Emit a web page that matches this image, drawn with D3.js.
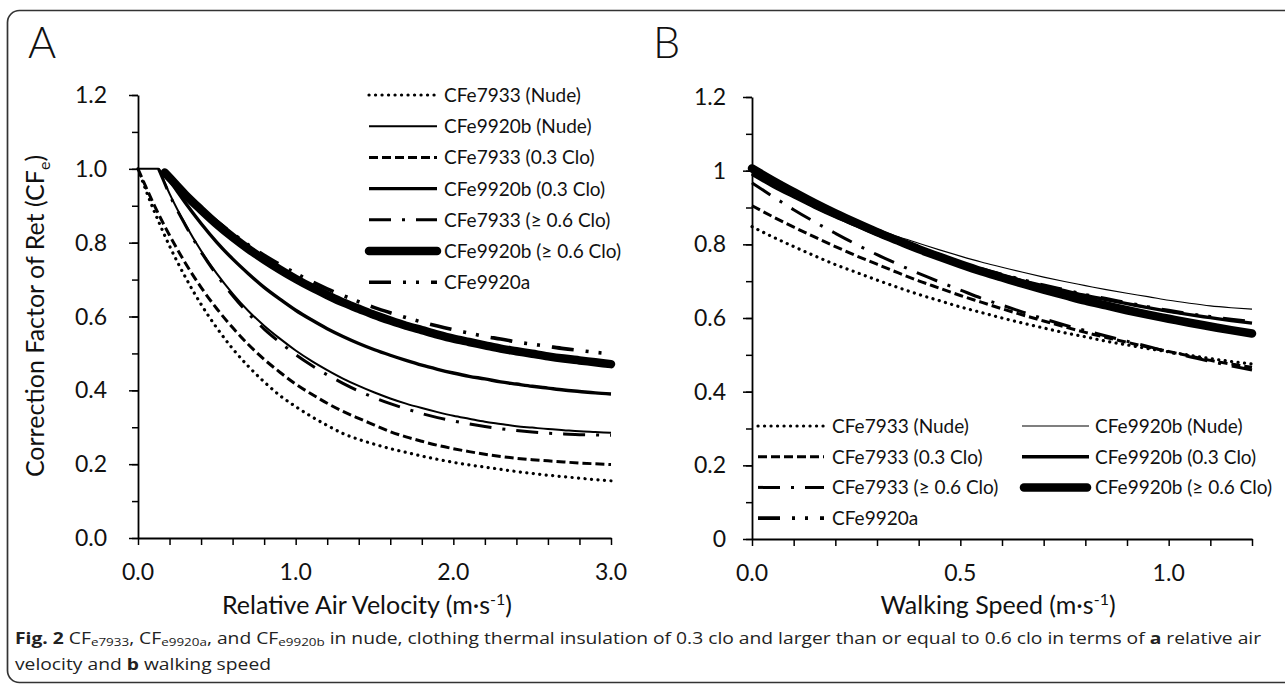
<!DOCTYPE html>
<html><head><meta charset="utf-8">
<script src="https://cdn.jsdelivr.net/npm/d3@7"></script>
<style>
html,body{margin:0;padding:0;background:#fff;}
svg{display:block;font-family:Lato,"Open Sans",sans-serif;}
</style></head><body>
<svg id="c" width="1285" height="685"></svg>
<script>
// ---------- DATA ----------
// Panel A: relative air velocity (m/s)
const velocityA = [0,0.05,0.1,0.13,0.17,0.2,0.3,0.4,0.5,0.6,0.7,0.8,0.9,1.0,1.1,1.2,1.3,1.4,1.5,1.6,1.7,1.8,1.9,2.0,2.1,2.2,2.3,2.4,2.5,2.6,2.7,2.8,2.9,3.0];
const A_7933_nude  = [1.000,0.942,0.888,0.858,0.819,0.791,0.707,0.633,0.569,0.513,0.465,0.423,0.386,0.356,0.329,0.305,0.283,0.267,0.254,0.242,0.232,0.222,0.213,0.205,0.198,0.192,0.186,0.180,0.175,0.170,0.166,0.162,0.158,0.155];
const A_9920b_nude = [1.000,1.000,1.000,1.000,0.961,0.933,0.850,0.778,0.716,0.662,0.615,0.575,0.540,0.508,0.480,0.455,0.432,0.412,0.394,0.378,0.364,0.352,0.341,0.331,0.323,0.315,0.309,0.303,0.299,0.295,0.292,0.289,0.287,0.285];
const A_7933_03    = [1.000,0.951,0.904,0.878,0.844,0.820,0.745,0.679,0.621,0.570,0.524,0.484,0.449,0.417,0.390,0.365,0.343,0.324,0.306,0.288,0.274,0.262,0.251,0.242,0.234,0.227,0.221,0.216,0.212,0.209,0.206,0.203,0.201,0.199];
const A_9920b_03   = [null,null,null,null,0.990,0.970,0.908,0.852,0.801,0.756,0.716,0.679,0.647,0.617,0.591,0.567,0.546,0.527,0.510,0.495,0.481,0.468,0.457,0.447,0.438,0.431,0.423,0.417,0.411,0.406,0.401,0.397,0.393,0.390];
const A_7933_06    = [null,null,null,1.000,0.960,0.930,0.848,0.775,0.712,0.657,0.608,0.566,0.530,0.497,0.468,0.442,0.419,0.398,0.380,0.364,0.350,0.337,0.326,0.317,0.309,0.302,0.296,0.291,0.287,0.284,0.282,0.280,0.279,0.278];
const A_9920b_06   = [null,null,null,null,0.990,0.976,0.930,0.889,0.850,0.815,0.783,0.754,0.727,0.702,0.679,0.658,0.638,0.621,0.604,0.589,0.575,0.563,0.551,0.540,0.531,0.522,0.513,0.506,0.499,0.492,0.486,0.481,0.476,0.471];
const A_9920a      = [null,null,null,null,0.990,0.977,0.933,0.894,0.858,0.825,0.794,0.766,0.741,0.717,0.695,0.675,0.657,0.640,0.624,0.610,0.597,0.585,0.574,0.564,0.555,0.546,0.539,0.531,0.525,0.519,0.513,0.508,0.503,0.499];

// Panel B: walking speed (m/s)
const speedB = [0,0.05,0.1,0.15,0.2,0.25,0.3,0.35,0.4,0.45,0.5,0.55,0.6,0.65,0.7,0.75,0.8,0.85,0.9,0.95,1.0,1.05,1.1,1.15,1.2];
const B_7933_nude  = [0.848,0.820,0.794,0.769,0.745,0.724,0.703,0.683,0.664,0.647,0.630,0.615,0.600,0.586,0.573,0.560,0.549,0.537,0.527,0.517,0.508,0.499,0.490,0.482,0.475];
const B_9920b_nude = [0.995,0.965,0.937,0.911,0.886,0.863,0.842,0.821,0.803,0.785,0.768,0.752,0.738,0.724,0.711,0.699,0.688,0.677,0.667,0.658,0.648,0.640,0.633,0.628,0.624];
const B_7933_03    = [0.905,0.875,0.847,0.820,0.794,0.769,0.746,0.723,0.701,0.681,0.661,0.643,0.625,0.608,0.592,0.576,0.561,0.547,0.534,0.521,0.509,0.497,0.485,0.475,0.466];
const B_9920b_03   = [0.990,0.958,0.929,0.901,0.875,0.851,0.827,0.806,0.786,0.766,0.748,0.732,0.716,0.701,0.687,0.674,0.661,0.650,0.639,0.628,0.618,0.609,0.601,0.593,0.586];
const B_7933_06    = [0.967,0.930,0.894,0.861,0.830,0.800,0.772,0.746,0.721,0.698,0.676,0.654,0.635,0.616,0.598,0.581,0.566,0.551,0.537,0.523,0.508,0.495,0.482,0.470,0.459];
const B_9920b_06   = [1.006,0.973,0.942,0.912,0.884,0.858,0.833,0.810,0.787,0.766,0.746,0.727,0.710,0.693,0.677,0.662,0.647,0.634,0.621,0.609,0.598,0.587,0.577,0.567,0.558];
const B_9920a      = [0.993,0.961,0.931,0.903,0.877,0.853,0.830,0.808,0.788,0.768,0.750,0.734,0.718,0.703,0.689,0.676,0.663,0.652,0.641,0.630,0.620,0.611,0.603,0.596,0.590];

// Tick labels
const yTickValues = [0,0.2,0.4,0.6,0.8,1.0,1.2];
const yTickLabelsA = ["0.0","0.2","0.4","0.6","0.8","1.0","1.2"];
const yTickLabelsB = ["0","0.2","0.4","0.6","0.8","1","1.2"];
const xTickValuesA = [0,1,2,3];
const xTickLabelsA = ["0.0","1.0","2.0","3.0"];
const xTickValuesB = [0,0.5,1.0];
const xTickLabelsB = ["0.0","0.5","1.0"];

const legendLabels = {
  n7933:"CFe7933 (Nude)", n9920b:"CFe9920b (Nude)", c7933:"CFe7933 (0.3 Clo)", c9920b:"CFe9920b (0.3 Clo)",
  h7933:"CFe7933 (\u2265 0.6 Clo)", h9920b:"CFe9920b (\u2265 0.6 Clo)", a9920:"CFe9920a"
};

// ---------- STYLES ----------
const st = {
  dot:    {w:3.2, dash:"0.1,6.4", cap:"round"},
  thinA:  {w:2.0, dash:null, cap:"butt"},
  thinB:  {w:1.1, dash:null, cap:"butt"},
  dash:   {w:3.0, dash:"9,4", cap:"butt"},
  med:    {w:3.4, dash:null, cap:"butt"},
  dashdot:{w:3.0, dash:"22,11,3,11", cap:"butt"},
  thick:  {w:8.5, dash:null, cap:"round"},
  dd:     {w:3.6, dash:"22,12,3,10,3,12", cap:"butt"}
};

const svg = d3.select("#c");

// frame
svg.append("rect").attr("x",7.5).attr("y",10.5).attr("width",1300).attr("height",672)
  .attr("rx",12).attr("fill","none").attr("stroke","#333").attr("stroke-width",1.7);

function styleLine(sel, s){
  sel.attr("fill","none").attr("stroke","#000").attr("stroke-width",s.w)
     .attr("stroke-linecap",s.cap).attr("stroke-linejoin","round");
  if(s.dash) sel.attr("stroke-dasharray",s.dash);
  return sel;
}

function panel(o){
  const g = svg.append("g");
  const x = d3.scaleLinear(o.xDomain,o.xRange);
  const y = d3.scaleLinear([0,1.2],o.yRange);
  const yMinor = d3.range(0,1.2001,0.1);
  g.append("g").attr("transform",`translate(${o.xRange[0]},0)`)
    .call(d3.axisLeft(y).tickValues(yMinor).tickSize(6).tickFormat("").tickSizeOuter(0))
    .call(a=>a.select(".domain").remove())
    .selectAll("line").attr("stroke","#000").attr("stroke-width",1.5);
  g.append("g").attr("transform",`translate(${o.xRange[0]},0)`)
    .call(d3.axisLeft(y).tickValues(yTickValues).tickSize(9).tickFormat("").tickSizeOuter(0))
    .call(a=>a.select(".domain").attr("stroke","#000").attr("stroke-width",1.8))
    .selectAll("line").attr("stroke","#000").attr("stroke-width",1.5);
  g.append("g").attr("transform",`translate(0,${o.yRange[0]})`)
    .call(d3.axisBottom(x).tickValues(o.xMinor).tickSize(7).tickFormat("").tickSizeOuter(0))
    .call(a=>a.select(".domain").attr("stroke","#000").attr("stroke-width",1.8))
    .selectAll("line").attr("stroke","#000").attr("stroke-width",1.5);
  g.selectAll(".yl").data(yTickValues).join("text")
    .attr("x",o.xRange[0]-o.yLabGap).attr("y",d=>y(d)+8)
    .attr("text-anchor","end").attr("font-size",23).attr("fill","#111")
    .text((d,i)=>o.yLabels[i]);
  g.selectAll(".xl").data(o.xTicks).join("text")
    .attr("x",d=>x(d)).attr("y",o.yRange[0]+42)
    .attr("text-anchor","middle").attr("font-size",23).attr("fill","#111")
    .text((d,i)=>o.xLabels[i]);
  const line = d3.line().defined(d=>d[1]!=null).x(d=>x(d[0])).y(d=>y(d[1])).curve(d3.curveMonotoneX);
  o.series.forEach(s=>{
    const pts = o.xs.map((v,i)=>[v,s.values[i]]);
    styleLine(g.append("path").attr("d",line(pts)), s.style);
  });
  o.legend.forEach(l=>{
    styleLine(g.append("line").attr("x1",l.x1).attr("x2",l.x2).attr("y1",l.y).attr("y2",l.y), l.style);
    g.append("text").attr("x",l.tx).attr("y",l.y+7).attr("font-size",19).attr("fill","#111").text(l.label);
  });
  const t = g.append("text").attr("x",o.titleX).attr("y",614).attr("text-anchor","middle")
    .attr("font-size",25).attr("fill","#111");
  t.append("tspan").text(o.title+" (m\u00b7s");
  t.append("tspan").attr("dy",-9).attr("font-size",16).text("-1");
  t.append("tspan").attr("dy",9).text(")");
  g.append("text").attr("x",o.letterX).attr("y",58).attr("font-size",43).attr("font-weight",300)
    .attr("fill","#111").text(o.letter);
  return {x,y};
}

// Panel A
const rowsA = d3.range(7).map(i=>95+i*31.2);
panel({
  xDomain:[0,3], xRange:[138,611], yRange:[538,95],
  xMinor:d3.range(0,3.0001,0.2), xTicks:xTickValuesA, xLabels:xTickLabelsA,
  yLabels:yTickLabelsA, yLabGap:31, xs:velocityA,
  series:[
    {values:A_7933_nude, style:st.dot},
    {values:A_7933_03, style:st.dash},
    {values:A_9920b_nude, style:st.thinA},
    {values:A_7933_06, style:st.dashdot},
    {values:A_9920b_03, style:st.med},
    {values:A_9920b_06, style:st.thick},
    {values:A_9920a, style:st.dd}
  ],
  legend:[
    {label:legendLabels.n7933, style:st.dot, y:rowsA[0]},
    {label:legendLabels.n9920b, style:st.thinA, y:rowsA[1]},
    {label:legendLabels.c7933, style:st.dash, y:rowsA[2]},
    {label:legendLabels.c9920b, style:st.med, y:rowsA[3]},
    {label:legendLabels.h7933, style:st.dashdot, y:rowsA[4]},
    {label:legendLabels.h9920b, style:st.thick, y:rowsA[5]},
    {label:legendLabels.a9920, style:st.dd, y:rowsA[6]}
  ].map(l=>Object.assign(l,{x1:369,x2:437,tx:444})),
  title:"Relative Air Velocity", titleX:367, letter:"A", letterX:28
});

// Panel B
const rowsB = d3.range(4).map(i=>426+i*30.7);
panel({
  xDomain:[0,1.2], xRange:[752,1252], yRange:[539,97],
  xMinor:d3.range(0,1.2001,0.1), xTicks:xTickValuesB, xLabels:xTickLabelsB,
  yLabels:yTickLabelsB, yLabGap:26, xs:speedB,
  series:[
    {values:B_7933_nude, style:st.dot},
    {values:B_7933_03, style:st.dash},
    {values:B_7933_06, style:st.dashdot},
    {values:B_9920b_nude, style:st.thinB},
    {values:B_9920b_06, style:st.thick},
    {values:B_9920b_03, style:st.med},
    {values:B_9920a, style:st.dd}
  ],
  legend:[
    {label:legendLabels.n7933, style:st.dot, y:rowsB[0], x1:758,x2:824,tx:832},
    {label:legendLabels.c7933, style:st.dash, y:rowsB[1], x1:758,x2:824,tx:832},
    {label:legendLabels.h7933, style:st.dashdot, y:rowsB[2], x1:758,x2:824,tx:832},
    {label:legendLabels.a9920, style:st.dd, y:rowsB[3], x1:758,x2:824,tx:832},
    {label:legendLabels.n9920b, style:st.thinB, y:rowsB[0], x1:1022,x2:1089,tx:1095},
    {label:legendLabels.c9920b, style:st.med, y:rowsB[1], x1:1022,x2:1089,tx:1095},
    {label:legendLabels.h9920b, style:st.thick, y:rowsB[2], x1:1024,x2:1087,tx:1095}
  ],
  title:"Walking Speed", titleX:998, letter:"B", letterX:653
});

// Y axis title (panel A)
const yt = svg.append("text").attr("transform","translate(44,316) rotate(-90)")
  .attr("text-anchor","middle").attr("font-size",25).attr("fill","#111");
yt.append("tspan").text("Correction Factor of Ret (CF");
yt.append("tspan").attr("dy",6).attr("font-size",16).text("e");
yt.append("tspan").attr("dy",-6).text(")");

// Caption
const cap = svg.append("g");
function capLine(y, parts){
  const t = cap.append("text").attr("x",15).attr("y",y).attr("font-size",16.5)
    .attr("font-family",'"Open Sans", sans-serif').attr("fill","#222");
  parts.forEach(p=>{
    if(typeof p==="string"){ t.append("tspan").attr("y",y).text(p); }
    else if(p.b){ t.append("tspan").attr("y",y).attr("font-weight","bold").text(p.b); }
    else if(p.sub){ t.append("tspan").attr("y",y+2.5).attr("font-size",11.5).text(p.sub); }
  });
  return t;
}
const c1 = capLine(644,[{b:"Fig. 2"}," CF",{sub:"e7933"},", CF",{sub:"e9920a"},", and CF",{sub:"e9920b"},
  " in nude, clothing thermal insulation of 0.3 clo and larger than or equal to 0.6 clo in terms of ",{b:"a"}," relative air"]);
const c2 = capLine(670,["velocity and ",{b:"b"}," walking speed"]);
const w1 = c1.node().getComputedTextLength();
const sx = 1247 / w1;
[c1,c2].forEach(c=>c.attr("transform",`translate(15,0) scale(${sx},1) translate(-15,0)`));
</script>
</body></html>
